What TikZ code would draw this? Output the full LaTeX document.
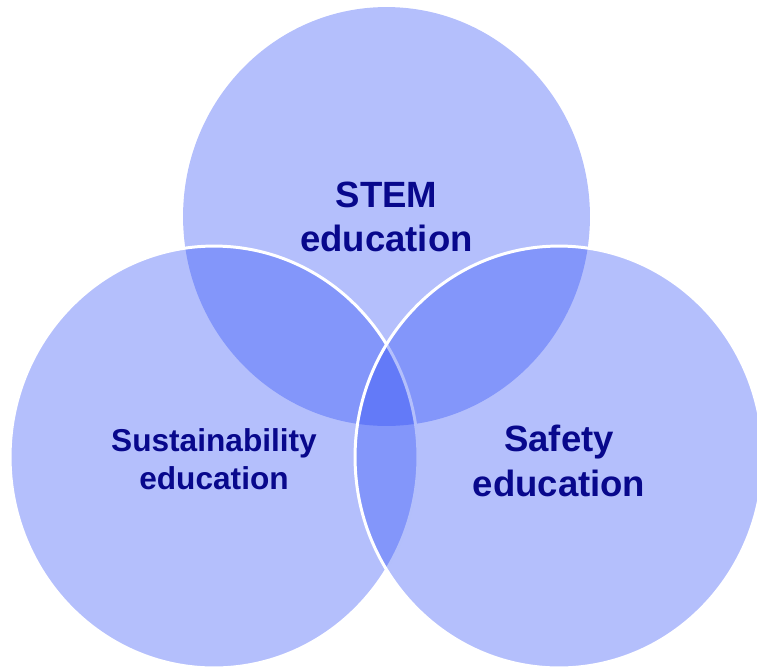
\documentclass[tikz,border=0pt]{standalone}
\usepackage{fontspec}
\setmainfont{Liberation Sans}
\usetikzlibrary{calc}

\definecolor{vennblue}{RGB}{40,72,246}
\definecolor{venntext}{RGB}{8,8,140}

\begin{document}
\begin{tikzpicture}[
  x=0.02cm, y=-0.02cm,
  set/.style={fill=vennblue, fill opacity=0.35},
  rim/.style={draw=white, line width=1.7pt},
  label/.style={text=venntext, align=center, font=\bfseries}]

    \useasboundingbox (0,0) rectangle (757,670);
    \clip (0,0) rectangle (757,670);

    \coordinate (c1) at (386.5,216.5);
    \coordinate (c2) at (214,457);
    \coordinate (c3) at (559,457);

    \fill[set] (c1) ellipse [x radius=4.07cm, y radius=4.19cm];
    \filldraw[set, rim] (c2) ellipse [x radius=4.08cm, y radius=4.22cm];
    \filldraw[set, rim] (c3) ellipse [x radius=4.08cm, y radius=4.22cm];

    \node[label, font=\fontsize{20.8}{25.5}\selectfont\bfseries] (stem) at (386.5,217) {STEM\\education};
    \node[label, font=\fontsize{18}{21.5}\selectfont\bfseries] (sust) at (214,459) {Sustainability\\education};
    \node[label, font=\fontsize{20.8}{25.5}\selectfont\bfseries] (safe) at (559,461) {Safety\\education};

\end{tikzpicture}
\end{document}
